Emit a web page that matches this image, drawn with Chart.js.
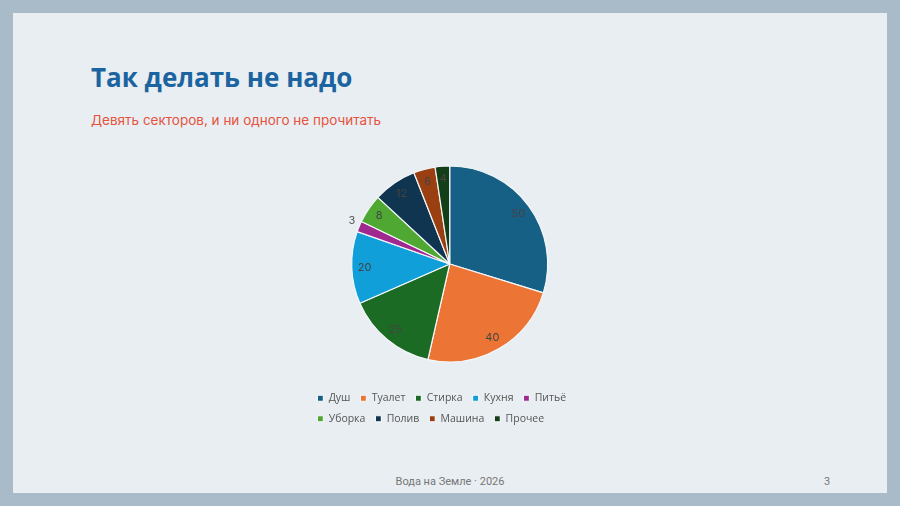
<!DOCTYPE html>
<html lang="ru">
<head>
    <meta charset="UTF-8">
    <title>Так делать не надо</title>
    <script src="https://cdn.jsdelivr.net/npm/chart.js"></script>
    <style>
        body {
            margin: 0;
            width: 900px;
            height: 506px;
            background: #a9bbc9;
            overflow: hidden;
            font-family: Inter, "Noto Sans", Arial, sans-serif;
        }
        .slide {
            position: absolute;
            left: 13px;
            top: 13px;
            width: 874px;
            height: 480px;
            background: #e9eef2;
        }
        h1 {
            position: absolute;
            left: 78px;
            top: 46px;
            margin: 0;
            font-family: "Open Sans", "Noto Sans", sans-serif;
            font-size: 26px;
            font-weight: 700;
            color: #1b64a0;
        }
        .subtitle {
            position: absolute;
            left: 78px;
            top: 99px;
            font-size: 13.5px;
            color: #e5533d;
        }
        .chart-box {
            position: absolute;
            left: 289px;
            top: 132px;
            width: 290px;
            height: 289px;
        }
        .footer {
            position: absolute;
            top: 462px;
            left: 0;
            width: 874px;
            text-align: center;
            font-family: "Liberation Sans Narrow", Roboto, sans-serif;
            font-size: 11px;
            color: #777;
        }
        .page {
            position: absolute;
            top: 462px;
            left: 811px;
            font-family: "Liberation Sans Narrow", Roboto, sans-serif;
            font-size: 11px;
            color: #777;
        }
    </style>
</head>
<body>
    <div class="slide">
        <h1>Так делать не надо</h1>
        <div class="subtitle">Девять секторов, и ни одного не прочитать</div>
        <div class="chart-box"><canvas id="pie"></canvas></div>
        <div class="footer">Вода на Земле · 2026</div>
        <div class="page">3</div>
    </div>

    <script>
        const categories = ['Душ', 'Туалет', 'Стирка', 'Кухня', 'Питьё', 'Уборка', 'Полив', 'Машина', 'Прочее'];
        const usage = [50, 40, 25, 20, 3, 8, 12, 6, 4];
        const sliceColors = ['#165f85', '#ec7434', '#1b6b25', '#109fd8', '#a02990', '#4fa832', '#0f3550', '#9a3f12', '#123f17'];

        // value labels: inside near the rim, outside for very thin slices
        const sliceLabels = {
            id: 'sliceLabels',
            afterDatasetsDraw(chart) {
                const ctx = chart.ctx;
                const meta = chart.getDatasetMeta(0);
                ctx.save();
                ctx.font = '11px Inter, "Noto Sans", sans-serif';
                ctx.textAlign = 'center';
                ctx.textBaseline = 'middle';
                meta.data.forEach((arc, i) => {
                    const p = arc.getProps(['x', 'y', 'startAngle', 'endAngle', 'outerRadius'], true);
                    const mid = (p.startAngle + p.endAngle) / 2;
                    const thin = (p.endAngle - p.startAngle) < 0.13;
                    const r = thin ? p.outerRadius * 1.08 : p.outerRadius * 0.87;
                    ctx.fillStyle = thin ? '#555' : '#444';
                    ctx.fillText(usage[i], p.x + Math.cos(mid) * r, p.y + Math.sin(mid) * r - (thin ? 3 : 0));
                });
                ctx.restore();
            }
        };

        new Chart(document.getElementById('pie'), {
            type: 'pie',
            data: {
                labels: categories,
                datasets: [{
                    data: usage,
                    backgroundColor: sliceColors,
                    borderColor: '#f4f7f9',
                    borderWidth: 1.2
                }]
            },
            options: {
                responsive: true,
                maintainAspectRatio: false,
                animation: false,
                radius: 98,
                layout: { padding: { left: 5.4 } },
                plugins: {
                    tooltip: { enabled: false },
                    legend: {
                        position: 'bottom',
                        align: 'start',
                        labels: {
                            usePointStyle: true,
                            pointStyle: 'rect',
                            boxWidth: 6,
                            boxHeight: 6,
                            padding: 10,
                            color: '#555',
                            font: { size: 10.5, family: '"Open Sans", "Noto Sans", sans-serif' }
                        }
                    }
                }
            },
            plugins: [sliceLabels]
        });
    </script>
</body>
</html>
